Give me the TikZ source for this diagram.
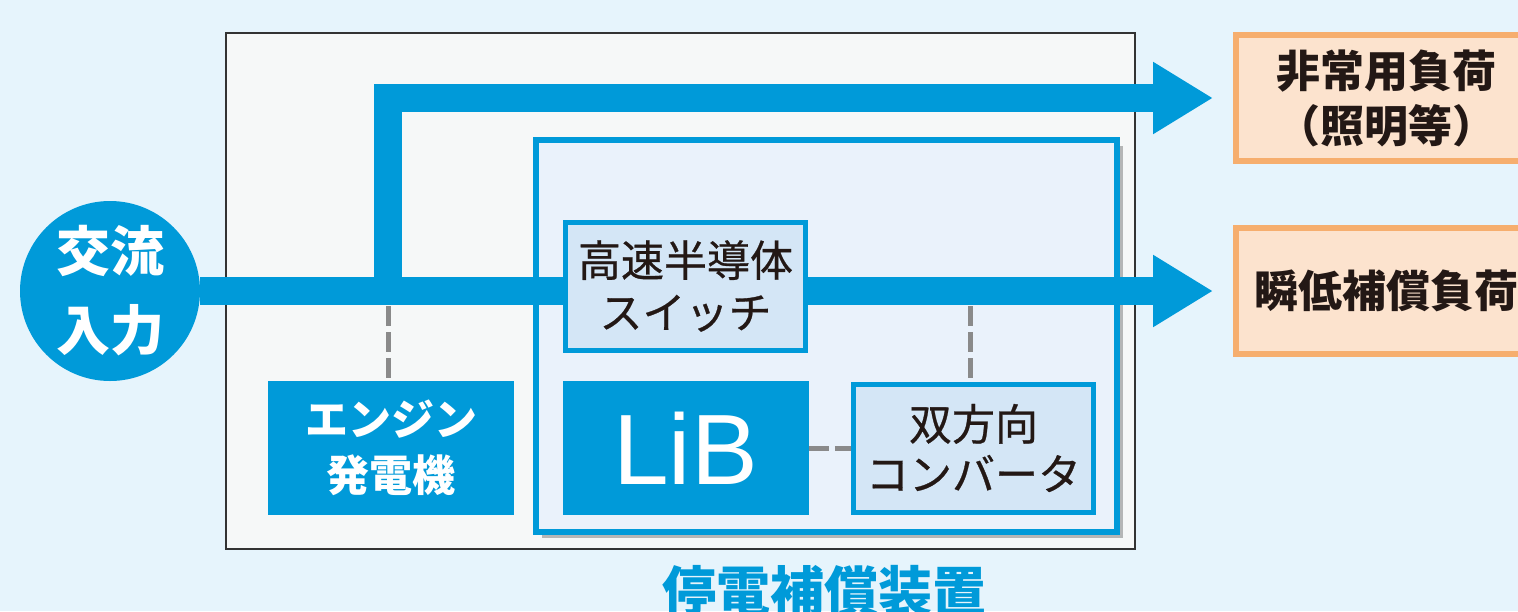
\documentclass[tikz,border=0pt]{standalone}
\usepackage{fontspec}
\setmainfont{Noto Sans CJK JP}
\newfontfamily\jpmed[FakeBold=0.6]{Noto Sans CJK JP}
\newfontfamily\latinsans{Liberation Sans}
\usetikzlibrary{arrows.meta,shadows}
\definecolor{bg}{HTML}{E6F4FC}
\definecolor{mainblue}{HTML}{009AD9}
\definecolor{outerfill}{HTML}{F6F8F8}
\definecolor{innerfill}{HTML}{EAF2FB}
\definecolor{boxfill}{HTML}{D4E6F6}
\definecolor{orangeline}{HTML}{F6AE6E}
\definecolor{orangefill}{HTML}{FCE3CE}
\definecolor{dashgray}{HTML}{8A8A8A}
\definecolor{textdark}{HTML}{231815}
\tikzset{
  flow/.style={draw=mainblue, line width=14pt, line join=miter,
    -{Triangle[length=30pt,width=34pt]}},
  dashline/.style={draw=dashgray, line width=2.5pt, dash pattern=on 10pt off 3pt},
  solidbox/.style={rectangle, fill=mainblue, draw=none, text=white,
    minimum width=123pt, minimum height=67pt, inner sep=0pt, align=center},
  lightbox/.style={rectangle, fill=boxfill, draw=mainblue, line width=2.5pt,
    text=textdark, minimum width=120pt, minimum height=64pt, inner sep=0pt,
    align=center, font=\jpmed\fontsize{21.5pt}{26pt}\selectfont},
  loadbox/.style={rectangle, fill=orangefill, draw=orangeline, line width=3pt,
    minimum width=144pt, minimum height=63pt, inner sep=0pt, text=textdark,
    align=center, font=\bfseries\fontsize{22pt}{27.5pt}\selectfont},
}
\begin{document}
\begin{tikzpicture}[x=0.5pt,y=-0.5pt]
\useasboundingbox (0,0) rectangle (1518,611);
\clip (0,0) rectangle (1518,611);
\fill[bg] (0,0) rectangle (1518,611);
% outer housing
\draw[draw=black!80, line width=1pt, fill=outerfill] (226,33) rectangle (1135,549);
% inner device
\draw[draw=mainblue, line width=3pt, fill=innerfill,
  drop shadow={shadow xshift=3pt, shadow yshift=-3pt, opacity=0.45, fill=black!60}]
  (536,140) rectangle (1117,532);
% nodes
\node[circle, fill=mainblue, minimum size=90pt, inner sep=0pt, text=white,
  align=center, font=\bfseries\fontsize{27pt}{39.5pt}\selectfont] (ac) at (110,291) {交流\\入力};
\node[loadbox, minimum width=150pt] (out1) at (1386,98) {非常用負荷\\（照明等）};
\node[loadbox, minimum width=150pt] (out2) at (1386,291) {瞬低補償負荷};
\coordinate (split) at (388,291);
\coordinate (tip1) at ([xshift=-10pt]out1.west);
\coordinate (tip2) at ([xshift=-10pt]out2.west);
% flows
\draw[flow] (ac.east) -- (tip2);
\draw[flow] (split) |- (tip1);
% boxes
\node[lightbox] (sw) at (685.5,286) {高速半導体\\スイッチ};
\node[solidbox, font=\bfseries\fontsize{21.5pt}{28pt}\selectfont] (eng) at (391,448) {エンジン\\発電機};
\node[solidbox, font=\latinsans\fontsize{50pt}{52pt}\selectfont] (lib) at (685.5,448) {LiB};
\node[lightbox, font=\jpmed\fontsize{21.5pt}{25pt}\selectfont] (conv) at (973.5,448) {双方向\\コンバータ};
% dashed links
\coordinate (d1) at (388,306);
\coordinate (d2) at (970,306);
\draw[dashline] (d1) -- (d1 |- eng.north);
\draw[dashline] (d2) -- (d2 |- conv.north);
\draw[dashline] (lib.east) -- (conv.west);
% caption
\node[text=mainblue, font=\bfseries\fontsize{27pt}{30pt}\selectfont] (cap) at (824,591) {停電補償装置};
\end{tikzpicture}
\end{document}
